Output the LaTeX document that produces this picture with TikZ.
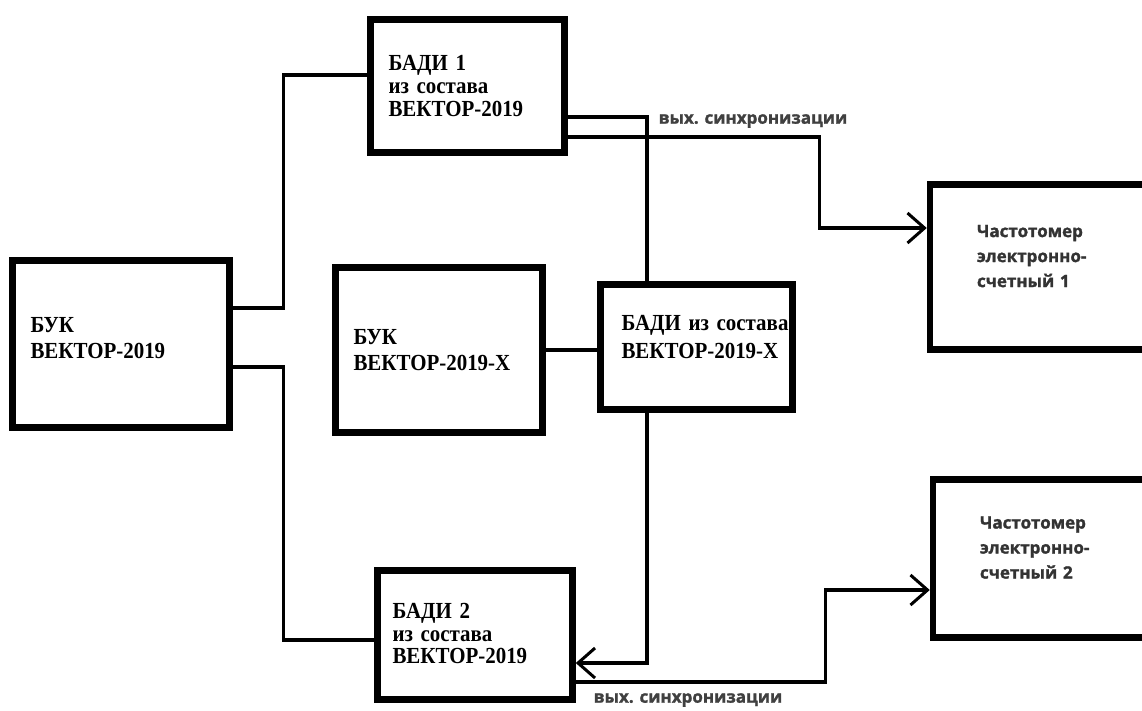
\documentclass[tikz,border=0pt]{standalone}
\usepackage{fontspec}
\setmainfont{Liberation Serif}[FakeStretch=0.91]
\newfontfamily\sigfont{Open Sans}[BoldFeatures={FakeBold=1.5}]
\usetikzlibrary{arrows.meta}

\tikzset{
	blok/.style={draw, line width=6.5pt, rectangle, inner xsep=18pt, inner ysep=0pt, align=left,
		font=\fontsize{23pt}{26pt}\selectfont\bfseries, text=black},
	tight/.style={font=\fontsize{23pt}{23pt}\selectfont\bfseries},
	meter/.style={blok, inner xsep=47pt, text depth=72pt, font=\sigfont\fontsize{17pt}{25pt}\selectfont\bfseries, text=black!80},
	wire/.style={line width=3.4pt},
	sig/.style={wire, -{Straight Barb[length=17pt,width=30pt,line width=3pt]}},
	lbl/.style={font=\sigfont\fontsize{17pt}{18pt}\selectfont\bfseries, text=black!75}
}

\begin{document}
\begin{tikzpicture}[x=1pt, y=-1pt]
			\useasboundingbox (0,0) rectangle (1142,710);
			
			% blocks
			\node [blok, text depth=39pt, text width=181pt, minimum height=167pt] (buk) at (121,344) {БУК\\\mbox{ВЕКТОР-2019}};
			\node [blok, tight, text width=158pt, minimum height=133pt] (badiA) at (467.5,86) {БАДИ 1\\из~состава\\\mbox{ВЕКТОР-2019}};
			\node [blok, text width=171pt, minimum height=165pt] (bukx) at (439,350) {БУК\\\mbox{ВЕКТОР-2019-Х}};
			\node [blok, font=\fontsize{23pt}{28pt}\selectfont\bfseries, inner xsep=21pt, text depth=49pt, text width=150pt, minimum height=125pt] (badix) at (696.5,347) {\mbox{БАДИ~из~состава}\\\mbox{ВЕКТОР-2019-Х}};
			\node [blok, font=\fontsize{23pt}{22.5pt}\selectfont\bfseries, inner xsep=15pt, text depth=48pt, text width=165pt, minimum height=129pt] (badiB) at (475,635) {БАДИ 2\\из~состава\\\mbox{ВЕКТОР-2019}};
			\node [meter, text width=126pt, minimum height=165pt] (chA) at (1040,267) {Частотомер\\электронно-\\счетный~1};
			\node [meter, text width=126pt, minimum height=158pt] (chB) at (1043,558.5) {Частотомер\\электронно-\\счетный~2};
			
			% connections
			\draw [wire] ([yshift=36pt]buk.east) -- ++(51,0) |- ([yshift=11pt]badiA.west);
			\draw [wire] ([yshift=-23pt]buk.east) -- ++(51,0) |- ([yshift=-5pt]badiB.west);
			\draw [wire] (bukx.east) -- (bukx.east -| badix.west);
			\draw [wire] ([yshift=-31pt]badiA.east) -| ([xshift=-49.5pt]badix.north);
			\draw [sig] ([yshift=-51pt]badiA.east) -- ++(252,0) |- ([yshift=39pt]chA.west);
			\draw [sig] ([xshift=-49.5pt]badix.south) |- ([yshift=-28pt]badiB.east);
			\draw [sig] ([yshift=-47pt]badiB.east) -- ++(250,0) |- ([yshift=-31.5pt]chB.west);
			
			\node [lbl] (outA) at (753,121) {вых. синхронизации};
			\node [lbl] (outB) at (688,700) {вых. синхронизации};
		\end{tikzpicture}
\end{document}
